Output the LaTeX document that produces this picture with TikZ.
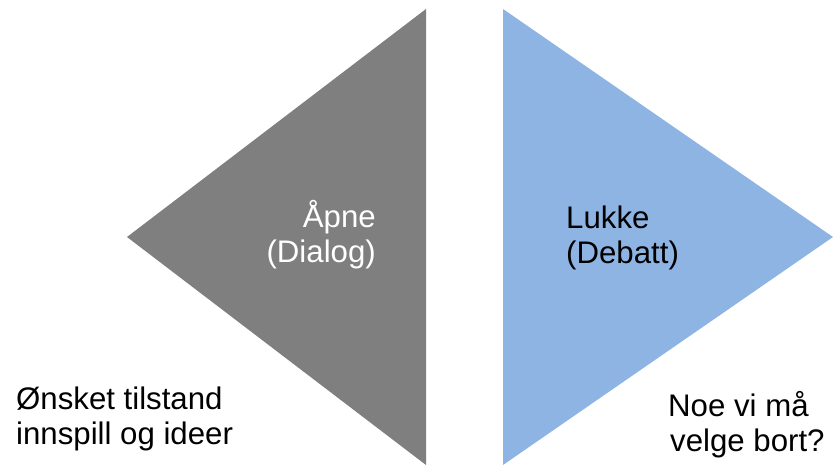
\documentclass[tikz,border=0pt]{standalone}
\usepackage{fontspec}
\setmainfont{Liberation Sans}
\begin{document}
\begin{tikzpicture}[x=1pt,y=-1pt,
  label text/.style={font=\fontsize{31.2}{35}\selectfont, inner sep=0pt, align=left},
  white text/.style={label text, text=white}]
\definecolor{funnelgray}{HTML}{7F7F7F}
\definecolor{funnelblue}{HTML}{8EB4E3}
\useasboundingbox (0,0) rectangle (833,465);
% opening triangle (points left)
\fill[funnelgray] (426,9) -- (426,465) -- (127,237) -- cycle;
% closing triangle (points right)
\fill[funnelblue] (503,9) -- (503,465) -- (833,237) -- cycle;
% labels inside the triangles
\node[white text, anchor=base east, align=right] (open1) at (376,228) {Åpne};
\node[white text, anchor=base east, align=right] (open2) at (376,263) {(Dialog)};
\node[label text, anchor=base west] (close1) at (566,229) {Lukke};
\node[label text, anchor=base west] (close2) at (566,264) {(Debatt)};
% notes below
\node[label text, anchor=base west] (wish1) at (16,409) {Ønsket tilstand};
\node[label text, anchor=base west] (wish2) at (16,444) {innspill og ideer};
\node[label text, anchor=base west] (drop1) at (668,416) {Noe vi må};
\node[label text, anchor=base west] (drop2) at (670,451) {velge bort?};
\end{tikzpicture}
\end{document}
